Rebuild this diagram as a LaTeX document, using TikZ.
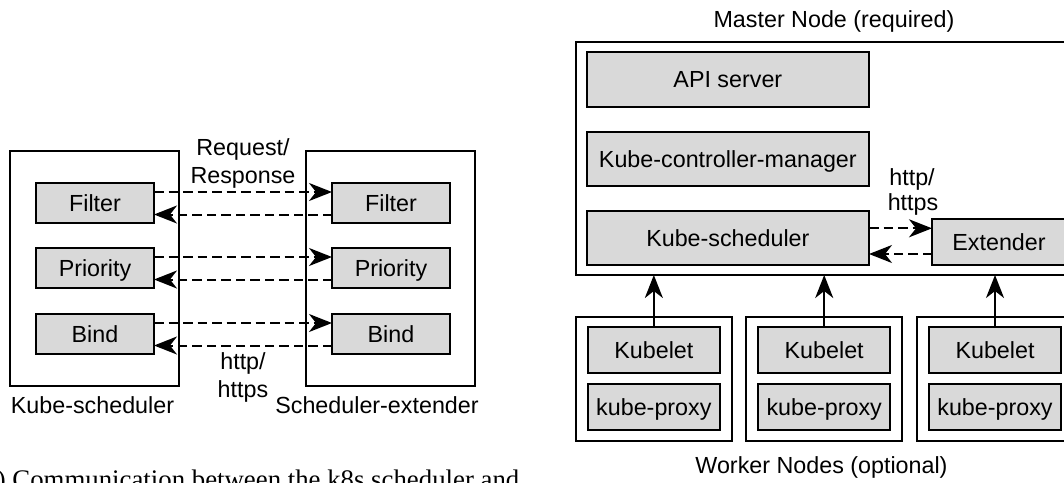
\documentclass[tikz,border=0pt]{standalone}
\usepackage{fontspec}
\setmainfont{Liberation Sans}
\newfontfamily\capfont{Liberation Serif}
\usetikzlibrary{arrows.meta,calc}
\definecolor{boxgray}{HTML}{D9D9D9}
\begin{document}
\begin{tikzpicture}[x=1pt,y=-1pt,
  every node/.style={font=\fontsize{23.3}{28}\selectfont, inner sep=0pt, outer sep=0pt},
  sz/.style 2 args={minimum width=#1pt, minimum height=#2pt},
  frame/.style={draw, line width=2pt},
  comp/.style={draw, line width=2pt, fill=boxgray, text height=16.7pt, text depth=0pt},
  link/.style={line width=2pt, -{Stealth[length=23pt,width=18pt,inset=7pt]}},
  dlink/.style={link, dash pattern=on 9.5pt off 5pt},
  lbl/.style={anchor=base}]
\useasboundingbox (0,0) rectangle (1064,482);
\clip (0,0) rectangle (1064,482);

% ---- scheduler / extender communication ----
\node[frame, sz={169}{235}] (ksOuter) at (94.5,268.5) {};
\node[frame, sz={169}{235}] (seOuter) at (390.5,268.5) {};

\node[comp, sz={118}{40}] (fL) at (95,203) {Filter};
\node[comp, sz={118}{40}] (pL) at (95,268) {Priority};
\node[comp, sz={118}{40}] (bL) at (95,334) {Bind};
\node[comp, sz={118}{40}] (fR) at (391,203) {Filter};
\node[comp, sz={118}{40}] (pR) at (391,268) {Priority};
\node[comp, sz={118}{40}] (bR) at (391,334) {Bind};

\foreach \a/\b in {fL/fR, pL/pR, bL/bR} {
  \draw[dlink] ([yshift=-9pt]\a.north east) -- ([yshift=-9pt]\b.north west);
  \draw[dlink] ([yshift=-31.5pt]\b.north west) -- ([yshift=-31.5pt]\a.north east);
}

\node[lbl] (reqA) at (243,155) {Request/};
\node[lbl] (reqB) at (243,183) {Response};
\node[lbl] (httpA) at (243,369) {http/};
\node[lbl] (httpB) at (243,397) {https};
\node[lbl] (ksLbl) at (92.5,413) {Kube-scheduler};
\node[lbl] (seLbl) at (377,413) {Scheduler-extender};

\node[anchor=base west, font=\capfont\fontsize{26.8}{30}\selectfont] (cap) at (-24,488)
  {(a) Communication between the k8s scheduler and};

% ---- cluster layout ----
\node[lbl] (mLbl) at (834,27) {Master Node (required)};
\node[frame, sz={501}{232.7}] (master) at (826.5,158.65) {};
\node[comp, sz={282.3}{54.4}] (api) at (727.85,79.5) {API server};
\node[comp, sz={282.3}{54.4}] (kcm) at (727.85,158.7) {Kube-controller-manager};
\node[comp, sz={282.3}{54.4}] (ksched) at (727.85,237.85) {Kube-scheduler};
\node[comp, sz={134}{46}] (ext) at (999,242) {Extender};

\coordinate (extIn) at ([yshift=-9.3pt]ext.north west);
\coordinate (extOut) at ([yshift=11pt]ext.south west);
\draw[dlink] (ksched.east |- extIn) -- (extIn);
\draw[dlink] (extOut) -- (ksched.east |- extOut);
\node[lbl] (httpC) at (912,185) {http/};
\node[lbl] (httpD) at (913,210.7) {https};

\node[frame, sz={155.7}{123.4}] (w1) at (653.85,379) {};
\node[frame, sz={155.7}{123.4}] (w2) at (824.2,379) {};
\node[frame, sz={155.7}{123.4}] (w3) at (994.8,379) {};
\node[comp, sz={132.3}{46}] (kl1) at (653.85,349.7) {Kubelet};
\node[comp, sz={132.3}{46}] (kl2) at (824.2,349.7) {Kubelet};
\node[comp, sz={132.3}{46}] (kl3) at (995,349.7) {Kubelet};
\node[comp, sz={132.3}{45.7}] (kp1) at (653.85,407.15) {kube-proxy};
\node[comp, sz={132.3}{45.7}] (kp2) at (824.2,407.15) {kube-proxy};
\node[comp, sz={132.3}{45.7}] (kp3) at (995,407.15) {kube-proxy};

\foreach \k in {kl1,kl2,kl3}
  \draw[link] (\k.north) -- (\k.north |- master.south);

\node[lbl] (wLbl) at (821.5,473) {Worker Nodes (optional)};
\end{tikzpicture}
\end{document}
